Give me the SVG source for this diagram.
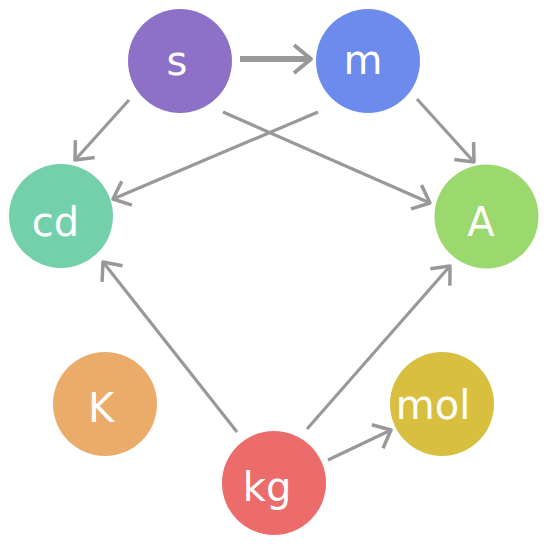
<svg xmlns="http://www.w3.org/2000/svg" width="547" height="544" viewBox="0 0 547 544">
<style>
.n{stroke:none}
.t{font-family:"DejaVu Sans",sans-serif;font-size:40px;fill:#ffffff;text-anchor:middle}
.e{stroke:#999999;stroke-width:3.2;fill:none}
.thick{stroke-width:6}
</style>
<defs>
<marker id="ah" markerUnits="userSpaceOnUse" orient="auto" markerWidth="40" markerHeight="40" refX="0" refY="0" viewBox="-20 -20 40 40" overflow="visible">
<path d="M-15,-13 L0,0 L-15,13" fill="none" stroke="#999999" stroke-width="3.5" stroke-linejoin="round"/>
</marker>
<marker id="ah2" markerUnits="userSpaceOnUse" orient="auto" markerWidth="40" markerHeight="40" refX="0" refY="0" viewBox="-20 -20 40 40" overflow="visible">
<path d="M-17,-14 L0,0 L-17,14" fill="none" stroke="#999999" stroke-width="4" stroke-linejoin="round"/>
</marker>
</defs>
<rect width="547" height="544" fill="#ffffff"/>
<g id="connectors">
<line class="e thick" x1="240" y1="59" x2="311" y2="59" marker-end="url(#ah2)"/>
<line class="e" x1="129" y1="100" x2="75" y2="160" marker-end="url(#ah)"/>
<line class="e" x1="318" y1="112" x2="113" y2="199" marker-end="url(#ah)"/>
<line class="e" x1="223" y1="112" x2="430" y2="203" marker-end="url(#ah)"/>
<line class="e" x1="417" y1="99" x2="474" y2="162" marker-end="url(#ah)"/>
<line class="e" x1="237" y1="432" x2="103" y2="262" marker-end="url(#ah)"/>
<line class="e" x1="307" y1="429" x2="450" y2="266" marker-end="url(#ah)"/>
<line class="e" x1="328" y1="460" x2="391" y2="430" marker-end="url(#ah)"/>
</g>
<g id="node-s"><circle class="n" cx="180" cy="61" r="52" fill="#8c71c6"/><text class="t" x="177" y="75">s</text></g>
<g id="node-m"><circle class="n" cx="368" cy="61" r="52" fill="#6c8bec"/><text class="t" x="363" y="74">m</text></g>
<g id="node-cd"><circle class="n" cx="61" cy="216" r="52" fill="#74d0ab"/><text class="t" x="55.5" y="235.5">cd</text></g>
<g id="node-A"><circle class="n" cx="486.5" cy="216.5" r="52" fill="#9bd86d"/><text class="t" x="481" y="235.5">A</text></g>
<g id="node-K"><circle class="n" cx="105" cy="404" r="52" fill="#eaab6b"/><text class="t" x="101" y="421.5">K</text></g>
<g id="node-mol"><circle class="n" cx="442" cy="404" r="52" fill="#d9bf40"/><text class="t" x="433" y="418.5">mol</text></g>
<g id="node-kg"><circle class="n" cx="274" cy="483" r="52" fill="#ec6b6b"/><text class="t" x="267" y="501">kg</text></g>
</svg>
